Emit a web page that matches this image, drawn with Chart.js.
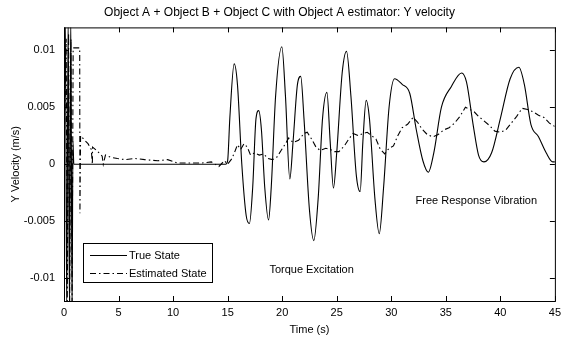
<!DOCTYPE html>
<html>
<head>
<meta charset="utf-8">
<title>Y velocity</title>
<script src="https://cdn.jsdelivr.net/npm/chart.js@4/dist/chart.umd.min.js"></script>
<style>
  html, body { margin: 0; padding: 0; background: #fff; }
  #chart { display: block; }
</style>
</head>
<body>
<canvas id="chart" width="566" height="337"></canvas>
<script>
// Values (time in s, velocity in m/s)
const trueTime = [0, 0.12, 0.25, 0.38, 0.5, 0.62, 0.74, 0.82, 0.9, 14.8, 15.0, 15.2, 15.6, 15.9, 16.3, 16.7, 17.0, 17.3, 17.6, 17.85, 18.1, 18.4, 18.75, 19.0, 19.4, 19.97, 20.3, 20.7, 21.0, 21.4, 21.7, 22.0, 22.5, 22.9, 23.3, 23.7, 24.1, 24.4, 24.7, 25.0, 25.5, 25.9, 26.3, 26.8, 27.15, 27.4, 27.7, 28.0, 28.5, 28.9, 29.3, 29.8, 30.3, 31.0, 31.7, 32.3, 32.9, 33.4, 33.9, 34.6, 35.5, 36.45, 36.9, 37.5, 38.0, 38.5, 39.2, 40.0, 40.9, 41.7, 42.2, 42.8, 43.5, 44.2, 44.8, 45.0];
const trueVel = [0, 0.013, -0.013, 0.013, -0.013, 0.013, -0.013, 0.002, 0, 0, 0.0003, 0.004, 0.0088, 0.007, 0.0, -0.0045, -0.0052, -0.002, 0.004, 0.0047, 0.003, -0.002, -0.0049, -0.002, 0.006, 0.0103, 0.006, -0.0013, 0.002, 0.007, 0.0077, 0.004, -0.004, -0.0067, -0.003, 0.004, 0.0063, 0.002, -0.0021, 0.001, 0.008, 0.0099, 0.006, -0.001, -0.0024, 0.002, 0.0056, 0.004, -0.003, -0.0061, -0.002, 0.005, 0.0075, 0.007, 0.0062, 0.003, 0.0003, -0.0007, 0.001, 0.005, 0.0068, 0.008, 0.0072, 0.0035, 0.0008, 0.0002, 0.001, 0.004, 0.0075, 0.0085, 0.007, 0.0035, 0.0024, 0.001, 0.0002, 0.0002];

const estTime = [0, 0.2, 0.3, 0.42, 0.52, 0.64, 0.74, 0.84, 1.1, 1.44, 1.46, 1.52, 1.9, 2.2, 2.5, 2.6, 2.62, 3.0, 3.5, 3.6, 3.8, 4.3, 4.9, 5.6, 6.5, 7.4, 8.6, 9.5, 10.4, 11.3, 12.6, 13.5, 14.2, 14.7, 15.0, 15.4, 15.7, 15.9, 16.2, 16.5, 16.8, 17.1, 17.5, 17.9, 18.3, 18.7, 19.1, 19.5, 19.9, 20.3, 20.6, 21.0, 21.5, 22.0, 22.3, 22.7, 23.1, 23.5, 24.0, 24.4, 24.8, 25.2, 25.7, 26.1, 26.5, 27.0, 27.4, 27.8, 28.2, 28.6, 29.0, 29.4, 29.8, 30.2, 30.6, 31.0, 31.5, 32.0, 32.4, 32.8, 33.3, 33.8, 34.3, 34.8, 35.3, 35.8, 36.3, 36.8, 37.2, 37.6, 38.0, 38.5, 39.0, 39.5, 40.0, 40.5, 41.0, 41.5, 42.0, 42.5, 43.0, 43.5, 44.0, 44.5, 45.0];
const estVel = [0, 0.011, -0.012, 0.0115, -0.012, 0.011, -0.012, 0.0102, 0.0102, 0.0102, -0.0043, 0.0025, 0.0021, 0.0018, 0.0013, 0.0, 0.0015, 0.0012, 0.0007, 0.0, 0.0008, 0.0006, 0.0005, 0.0004, 0.0005, 0.0004, 0.0003, 0.0004, 0.0001, 0.0001, 0.0001, 0.0002, -0.0002, 0.0003, 0.0, 0.0005, 0.0012, 0.0017, 0.0013, 0.0018, 0.0015, 0.0008, 0.001, 0.0008, 0.0009, 0.0005, 0.0004, 0.0006, 0.0012, 0.0018, 0.0023, 0.0019, 0.0021, 0.0027, 0.0028, 0.0022, 0.0015, 0.0012, 0.0014, 0.0013, 0.0011, 0.0011, 0.0016, 0.0022, 0.0027, 0.0025, 0.0027, 0.0028, 0.0025, 0.0022, 0.0013, 0.0009, 0.0014, 0.0016, 0.0025, 0.0032, 0.0035, 0.0041, 0.0037, 0.0031, 0.0026, 0.0024, 0.0026, 0.003, 0.0032, 0.0036, 0.0042, 0.005, 0.0048, 0.0046, 0.0042, 0.0038, 0.0034, 0.0029, 0.0028, 0.003, 0.0036, 0.0042, 0.0049, 0.0048, 0.0046, 0.0043, 0.0041, 0.0036, 0.0033];

const xTicks = [0, 5, 10, 15, 20, 25, 30, 35, 40, 45];
const yTicks = [-0.01, -0.005, 0, 0.005, 0.01];
const yTickLabels = ['-0.01', '-0.005', '0', '0.005', '0.01'];

const seriesNames = ['True State', 'Estimated State'];
const notes = [
    { text: 'Torque Excitation', x: 22.7, y: -0.0093 },
    { text: 'Free Response Vibration', x: 37.8, y: -0.0032 }
];

const FONT = 'Liberation Sans, Arial, Helvetica, sans-serif';
const DASH_DOT = [6, 3, 1.5, 3];

Chart.defaults.font.family = FONT;
Chart.defaults.font.size = 11;
Chart.defaults.color = '#000';

const toPoints = (xs, ys) => xs.map((x, i) => ({ x: x, y: ys[i] }));

// Box, inward ticks on all four sides, notes and the legend (MATLAB look)
const matlabFrame = {
    id: 'matlabFrame',
    afterDatasetsDraw(chart) {
        const { ctx, chartArea: a, scales } = chart;
        const len = 5;
        ctx.save();
        ctx.strokeStyle = '#000';
        ctx.lineWidth = 1;
        ctx.setLineDash([]);
        ctx.strokeRect(a.left + 0.5, a.top + 0.5, a.right - a.left, a.bottom - a.top);
        ctx.beginPath();
        xTicks.forEach(v => {
            const px = Math.round(scales.x.getPixelForValue(v)) + 0.5;
            ctx.moveTo(px, a.bottom); ctx.lineTo(px, a.bottom - len);
            ctx.moveTo(px, a.top); ctx.lineTo(px, a.top + len);
        });
        yTicks.forEach(v => {
            const py = Math.round(scales.y.getPixelForValue(v)) + 0.5;
            ctx.moveTo(a.left, py); ctx.lineTo(a.left + len, py);
            ctx.moveTo(a.right, py); ctx.lineTo(a.right - len, py);
        });
        ctx.stroke();

        ctx.fillStyle = '#000';
        ctx.font = '11px ' + FONT;
        ctx.textAlign = 'center';
        ctx.textBaseline = 'middle';
        notes.forEach(n => {
            ctx.fillText(n.text, scales.x.getPixelForValue(n.x), scales.y.getPixelForValue(n.y));
        });

        // legend box, lower left inside the axes
        const bx = a.left + 19, bw = 129, bh = 39, by = a.bottom - 19 - bh;
        ctx.fillStyle = '#fff';
        ctx.fillRect(bx, by, bw, bh);
        ctx.strokeRect(bx + 0.5, by + 0.5, bw, bh);
        ctx.textAlign = 'left';
        ctx.fillStyle = '#000';
        chart.data.datasets.forEach((ds, i) => {
            const ly = Math.round(by + 12 + i * 18) + 0.5;
            ctx.beginPath();
            ctx.setLineDash(ds.borderDash || []);
            ctx.lineWidth = ds.borderWidth;
            ctx.moveTo(bx + 7, ly);
            ctx.lineTo(bx + 44, ly);
            ctx.stroke();
            ctx.setLineDash([]);
            ctx.fillText(seriesNames[i], bx + 46, ly);
        });
        ctx.restore();
    }
};

new Chart(document.getElementById('chart'), {
    type: 'line',
    data: {
        datasets: [{
            label: seriesNames[0],
            data: toPoints(trueTime, trueVel),
            borderColor: '#000',
            borderWidth: 1.1,
            pointRadius: 0,
            cubicInterpolationMode: 'monotone'
        }, {
            label: seriesNames[1],
            data: toPoints(estTime, estVel),
            borderColor: '#000',
            borderWidth: 1.1,
            borderDash: DASH_DOT,
            pointRadius: 0,
            tension: 0
        }]
    },
    options: {
        responsive: false,
        animation: false,
        layout: { padding: { left: 0, right: 7, top: 0, bottom: 0 } },
        scales: {
            x: {
                type: 'linear',
                min: 0,
                max: 45,
                afterBuildTicks: s => { s.ticks = xTicks.map(v => ({ value: v })); },
                afterFit: s => { s.height = 36; },
                grid: { display: false, drawTicks: false },
                border: { display: false },
                ticks: { padding: 5, maxRotation: 0, font: { size: 11 } },
                title: { display: true, text: 'Time (s)', padding: { top: 1, bottom: 0 }, font: { size: 11 } }
            },
            y: {
                min: -0.012,
                max: 0.012,
                afterBuildTicks: s => { s.ticks = yTicks.map(v => ({ value: v })); },
                afterFit: s => { s.width = 64; },
                grid: { display: false, drawTicks: false },
                border: { display: false },
                ticks: {
                    padding: 9,
                    font: { size: 11 },
                    callback: v => yTickLabels[yTicks.indexOf(v)]
                },
                title: { display: true, text: 'Y Velocity (m/s)', padding: { top: 9, bottom: 4 }, font: { size: 11 } }
            }
        },
        plugins: {
            legend: { display: false },
            tooltip: { enabled: false },
            title: {
                display: true,
                text: 'Object A + Object B + Object C with Object A estimator: Y velocity',
                padding: { top: 5, bottom: 8 },
                font: { size: 12, weight: 'normal' }
            }
        }
    },
    plugins: [matlabFrame]
});
</script>
</body>
</html>
